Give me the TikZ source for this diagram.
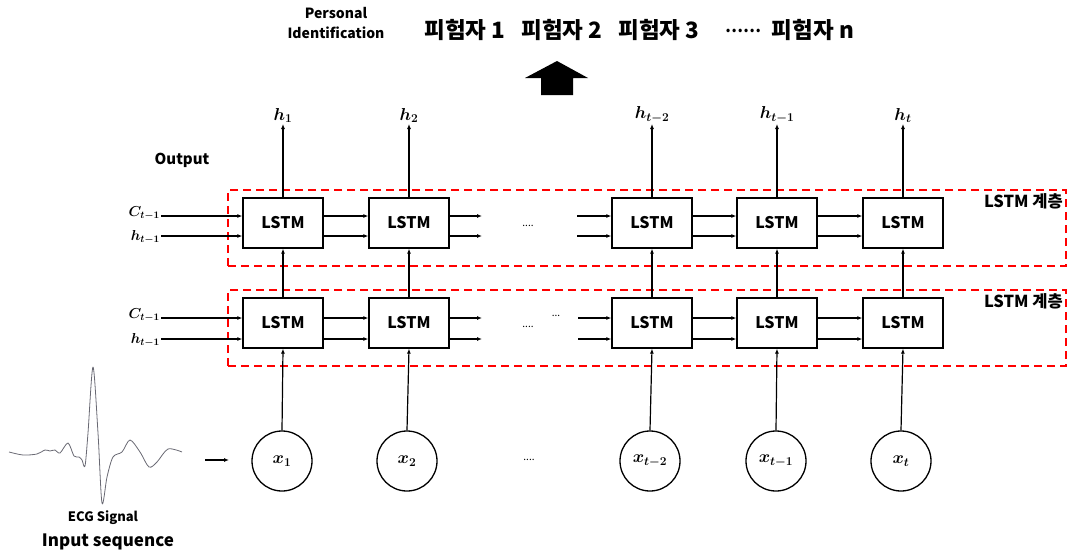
\documentclass[tikz,border=0pt]{standalone}
\usepackage{fontspec}
\setmainfont{Noto Sans CJK KR}
\usetikzlibrary{arrows.meta}

\definecolor{ecggray}{RGB}{105,105,115}

\tikzset{
  arr/.style={-{Latex[length=5pt,width=4pt]}, line width=1.2pt},
  lstmbox/.style={draw, line width=1.3pt, minimum width=80pt, minimum height=50pt,
    inner sep=0pt, font=\fontsize{16}{18}\selectfont\bfseries},
  inputnode/.style={draw, circle, line width=1.3pt, minimum size=60pt, inner sep=0pt,
    font=\boldmath\fontsize{18}{20}\selectfont},
  layerbox/.style={draw=red, dash pattern=on 8pt off 5pt, line width=1.6pt,
    minimum width=838pt, minimum height=76pt, inner sep=0pt},
  layerlabel/.style={font=\fontsize{16.5}{18}\selectfont\bfseries, anchor=north east, inner sep=1pt},
  hlabel/.style={anchor=south, inner sep=1pt, font=\boldmath\fontsize{18}{20}\selectfont},
  inlabel/.style={anchor=east, inner sep=1pt, font=\boldmath\fontsize{14}{16}\selectfont},
  dots/.style={font=\fontsize{10}{12}\selectfont, inner sep=0pt},
  subject/.style={font=\fontsize{22.5}{24}\selectfont\bfseries, inner sep=0pt},
}

\begin{document}
\begin{tikzpicture}[x=1pt, y=-1pt]
  \useasboundingbox (0,0) rectangle (1069,557);

  % dashed frames around the two LSTM layers
  \node[layerbox] (layer1) at (647,228) {};
  \node[layerbox] (layer2) at (647,328) {};
  \node[layerlabel] (lab1) at (1064,192) {LSTM 계층};
  \node[layerlabel] (lab2) at (1064,292) {LSTM 계층};

  % LSTM cells
  \foreach \i/\x in {1/283, 2/409, 3/652, 4/777, 5/903} {
    \node[lstmbox] (a\i) at (\x,223) {LSTM};
    \node[lstmbox] (b\i) at (\x,323) {LSTM};
  }

  % input circles
  \node[inputnode] (c1) at (282,461) {$x_{1}$};
  \node[inputnode] (c2) at (407,461) {$x_{2}$};
  \node[inputnode] (c3) at (650,461) {$x_{t-2}$};
  \node[inputnode] (c4) at (776,461) {$x_{t-1}$};
  \node[inputnode] (c5) at (901,461) {$x_{t}$};

  % output labels
  \node[hlabel] (h1) at (283,124) {$h_{1}$};
  \node[hlabel] (h2) at (409,124) {$h_{2}$};
  \node[hlabel] (h3) at (652,124) {$h_{t-2}$};
  \node[hlabel] (h4) at (777,124) {$h_{t-1}$};
  \node[hlabel] (h5) at (903,124) {$h_{t}$};

  \foreach \i in {1,...,5} {
    \draw[arr] (a\i.north) -- (h\i.south);
    \draw[arr] (b\i.north) -- (a\i.south);
    \draw[arr] (c\i.north) -- (b\i.south);
  }

  % state inputs on the left
  \node[inlabel] (ct1) at (161,213) {$C_{t-1}$};
  \node[inlabel] (ht1) at (161,237) {$h_{t-1}$};
  \node[inlabel] (ct2) at (161,315) {$C_{t-1}$};
  \node[inlabel] (ht2) at (161,340) {$h_{t-1}$};
  \draw[arr] (ct1.east |- 0,216) -- ([yshift=7pt]a1.west);
  \draw[arr] (ht1.east |- 0,236) -- ([yshift=-13pt]a1.west);
  \draw[arr] (ct2.east |- 0,318) -- ([yshift=5pt]b1.west);
  \draw[arr] (ht2.east |- 0,339) -- ([yshift=-16pt]b1.west);

  % recurrent connections between neighbouring cells
  \foreach \i/\j in {1/2, 3/4, 4/5} {
    \draw[arr] ([yshift=7pt]a\i.east) -- ([yshift=7pt]a\j.west);
    \draw[arr] ([yshift=-13pt]a\i.east) -- ([yshift=-13pt]a\j.west);
    \draw[arr] ([yshift=5pt]b\i.east) -- ([yshift=5pt]b\j.west);
    \draw[arr] ([yshift=-16pt]b\i.east) -- ([yshift=-16pt]b\j.west);
  }

  % open ends around the gap
  \coordinate (ga1) at (482,216);
  \coordinate (ga2) at (482,236);
  \coordinate (gb1) at (482,318);
  \coordinate (gb2) at (482,339);
  \coordinate (ia1) at (577,216);
  \coordinate (ia2) at (577,236);
  \coordinate (ib1) at (578,318);
  \coordinate (ib2) at (578,339);
  \draw[arr] ([yshift=7pt]a2.east) -- (ga1);
  \draw[arr] ([yshift=-13pt]a2.east) -- (ga2);
  \draw[arr] ([yshift=5pt]b2.east) -- (gb1);
  \draw[arr] ([yshift=-16pt]b2.east) -- (gb2);
  \draw[arr] (ia1) -- ([yshift=7pt]a3.west);
  \draw[arr] (ia2) -- ([yshift=-13pt]a3.west);
  \draw[arr] (ib1) -- ([yshift=5pt]b3.west);
  \draw[arr] (ib2) -- ([yshift=-16pt]b3.west);

  \node[dots] (d1) at (528,226) {....};
  \node[dots] (d2) at (528,327) {....};
  \node[dots] (d3) at (556,316) {...};
  \node[dots] (d4) at (529,460) {....};

  % ECG trace feeding the inputs
  \draw[line width=0.8pt, color=ecggray, line join=round]
    plot[smooth, tension=0.5] coordinates {
      (9,452) (23,455) (37,454) (45,450) (50,451) (55,450) (60,453) (68,443)
      (74,456) (79,457) (82,460) (85,466) (88,433) (93,367) (98,433) (102,503)
      (107,477) (113,457) (122,452) (130,440) (140,452) (149,467) (157,462)
      (168,449) (182,452)};
  \coordinate (ecgA) at (205,460);
  \coordinate (ecgB) at (229,460);
  \draw[arr] (ecgA) -- (ecgB);
  \node[font=\fontsize{13}{15}\selectfont\bfseries, inner sep=0pt] (ecg) at (103,518) {ECG Signal};
  \node[font=\fontsize{17}{19}\selectfont\bfseries, inner sep=0pt] (inseq) at (108,542) {Input sequence};

  \node[font=\fontsize{15}{17}\selectfont\bfseries, inner sep=0pt] (out) at (182,160) {Output};

  % identification result
  \node[font=\fontsize{14}{20}\selectfont\bfseries, align=center, inner sep=0pt] (pid) at (336,23) {Personal\\Identification};
  \node[subject] (s1) at (465,30) {피험자 1};
  \node[subject] (s2) at (562,30) {피험자 2};
  \node[subject] (s3) at (659,30) {피험자 3};
  \node[font=\fontsize{16}{18}\selectfont\bfseries, inner sep=0pt] (sd) at (743,31) {……};
  \node[subject] (sn) at (813,30) {피험자 n};
  \fill[black] (557,61) -- (525,78) -- (541,78) -- (541,95) -- (573,95) -- (573,78) -- (588,78) -- cycle;
\end{tikzpicture}
\end{document}
